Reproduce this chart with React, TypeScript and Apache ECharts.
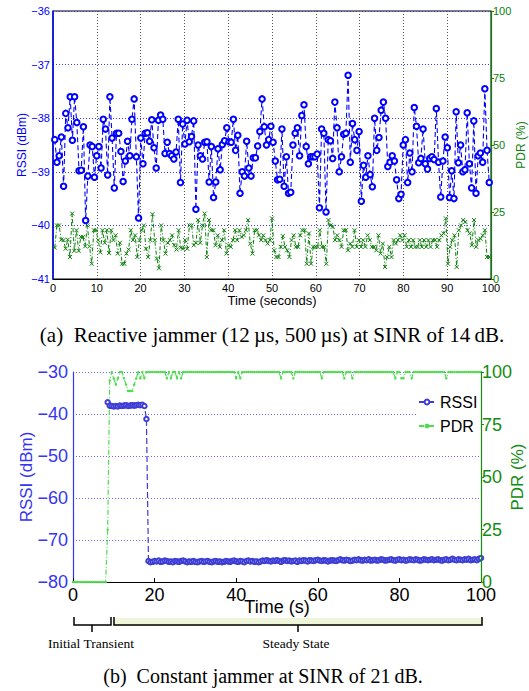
import React, { useEffect, useRef } from 'react';
import * as echarts from 'echarts';

// ---------- (a) Reactive jammer: RSSI (dBm) and PDR (%) over 0.4 .. 99.6 s ----------
const A_T0 = 0.4;
const A_T1 = 99.6;
const rssiA = [
  -38.4, -38.82, -38.7, -38.35, -39.27, -37.91, -38.18, -37.6, -38.41, -37.6,
  -38.08, -38.98, -38.97, -38.16, -39.91, -39.08, -38.5, -38.53, -39.1, -38.7,
  -38.53, -38.93, -38.02, -38.2, -39.06, -37.6, -38.37, -39.3, -38.28, -38.28,
  -38.62, -39.18, -38.8, -38.43, -38.7, -38.02, -37.64, -38.72, -39.86, -38.37,
  -38.85, -38.28, -38.27, -38.43, -38.03, -38.55, -38.93, -38.04, -37.94, -38.02,
  -38.66, -38.45, -38.66, -38.7, -38.76, -38.63, -38.02, -39.2, -38.11, -38.48,
  -38.04, -38.44, -38.34, -38.05, -39.7, -38.5, -38.7, -38.76, -38.45, -38.44,
  -39.19, -38.53, -39.48, -39.19, -38.57, -38.96, -38.49, -38.42, -38.18, -38.44,
  -38.45, -38.02, -38.6, -38.32, -39.4, -39.0, -39.08, -38.43, -38.93, -39.08,
  -38.74, -38.74, -38.52, -38.25, -37.64, -38.16,
  -38.5, -38.4, -38.15, -38.45, -38.8, -39.15, -39.14, -38.2, -39.27, -38.72,
  -39.4, -39.38, -38.5, -38.28, -38.18, -38.7, -37.95, -37.75, -38.53, -38.85,
  -38.72, -38.72, -38.72, -38.67, -39.67, -38.2, -38.28, -39.75, -38.4, -38.42,
  -38.75, -37.7, -38.18, -39.0, -38.72, -38.3, -38.28, -37.2, -38.82, -38.1,
  -38.4, -38.6, -38.25, -39.55, -38.88, -39.1, -38.7, -39.05, -39.28, -38.0,
  -38.6, -38.36, -37.85, -37.7, -38.0, -38.9, -38.82, -38.7, -38.8, -39.15,
  -39.5, -39.42, -38.5, -38.4, -39.2, -38.65, -39.0, -37.8, -38.15, -38.83,
  -38.75, -38.2, -38.85, -38.95, -38.75, -38.72, -38.77, -37.82, -38.82, -39.47,
  -38.8, -38.35, -38.55, -39.48, -38.98, -39.5, -37.88, -38.83, -38.5, -39.0,
  -38.96, -37.9, -38.85, -39.3, -38.05, -39.4, -38.7, -38.65, -38.82, -37.45,
  -38.6, -39.2,
];
const pdrA = [
  11.7, 20, 20, 14.7, 14.5, 11.3, 14.7, 8.2, 24.4, 10.5,
  18.2, 10.5, 15.7, 15.7, 12.2, 20, 12.2, 5.7, 18.2, 18.2,
  14.5, 10, 18.2, 13.5, 18.2, 9.7, 18.2, 14.5, 16.3, 9.5,
  13.5, 5.7, 5.7, 9.5, 11, 18.2, 14.5, 16.3, 8.2, 14.5,
  18.2, 20, 11.3, 8.2, 14.5, 24.2, 14.5, 7.6, 4, 20,
  14.5, 9.5, 13.5, 14.5, 16.3, 12.6, 11, 18.2, 11.7, 11.3,
  14.5, 11.3, 20, 20, 12.6, 13.5, 22, 13.5, 20, 24.4,
  8.2, 22, 18.2, 18.2, 12.6, 16.3, 12, 14.5, 18.2, 9.5,
  12.6, 12, 14.5, 18.2, 14.5, 18.2, 15.7, 16.3, 18.2, 22,
  13.2, 9.5, 18.2, 18.2, 16.3, 14.5, 16.3,
  14.5, 13.2, 14.5, 22.6, 10.7, 8.2, 8.2, 12, 16, 12,
  10.7, 8.2, 14.5, 16.3, 12, 12, 16.3, 18.2, 18.2, 5.7,
  17, 5.7, 12, 12, 12, 18.2, 12, 12, 5.7, 22,
  20, 19.5, 14.5, 16.3, 14.5, 12, 18.2, 18.2, 10.7, 13.2,
  12, 18.2, 12, 14.5, 12, 14.5, 12, 16.3, 14.5, 12,
  12, 10.7, 16.3, 9.5, 13.2, 4.5, 8.2, 12, 8.2, 14.5,
  13.2, 14.5, 16.3, 14.5, 16.3, 12, 14.5, 12, 14.5, 12,
  12, 14.5, 12, 14.5, 12, 14.5, 12, 14.5, 14.5, 12,
  14.5, 16.3, 17, 22.6, 5.7, 12, 14.5, 16.3, 4.5, 18.2,
  20, 22, 21.3, 18.2, 17, 12.6, 22, 12, 14.5, 15,
  16.3, 18.2, 8.2, 8.2,
];

// ---------- (b) Constant jammer: sampled every 0.5 s ----------
const B_DT = 0.5;
const B_RSSI_T0 = 8.5;
const rssiB = [
  -37.2,
  -38.0, -38.1, -38.2, -38.1, -38.2, -38.0, -38.1, -38.0, -37.9, -38.1,
  -38.0, -37.9, -38.0, -37.9, -37.8, -37.9, -37.8,
  -38.1,
  -41.2,
  -75.0, -75.3, -75.2, -75.0, -75.1, -74.9, -75.2, -75.1, -74.9, -75.0,
  -75.2, -75.1, -75.3, -75.0, -75.1, -75.2, -75.0, -74.9, -75.1, -75.3,
  -75.1, -75.2, -75.0, -75.2, -75.3, -75.1, -75.0, -75.2, -75.1, -75.0,
  -75.2, -75.3, -75.1, -75.0, -75.2, -75.1, -75.3, -75.2, -75.0, -75.1,
  -75.2, -75.0, -74.9, -75.1, -75.2, -75.0, -75.1, -75.3, -75.0, -74.9,
  -75.1, -75.0, -75.2, -75.1, -75.3, -75.1, -74.9, -75.0, -74.8, -75.0,
  -75.1, -74.9, -75.0, -74.8, -75.0, -75.2, -74.9, -74.8, -75.0, -74.9,
  -75.1, -75.0, -74.9, -75.2, -74.9, -75.0, -74.8, -74.9, -75.1, -74.8,
  -74.9, -75.0, -74.8, -74.7, -74.9, -75.0, -74.8, -74.9, -75.1, -74.9,
  -74.8, -74.9, -75.0, -74.8, -74.6, -74.8, -74.9, -74.7, -74.8, -75.0,
  -74.9, -74.7, -74.8, -74.6, -74.8, -74.9, -74.7, -74.8, -74.6, -74.9,
  -74.8, -74.7, -74.9, -74.8, -74.6, -74.7, -74.9, -74.8, -74.7, -74.6,
  -74.8, -74.9, -74.7, -74.6, -74.8, -74.7, -74.9, -74.8, -74.6, -74.7,
  -74.8, -74.6, -74.7, -74.9, -74.8, -74.6, -74.7, -74.8, -74.7, -74.6,
  -74.8, -74.7, -74.6, -74.8, -74.9, -74.7, -74.6, -74.8, -74.7, -74.5,
  -74.7, -74.8, -74.6, -74.7, -74.8, -74.6, -74.7, -74.5, -74.8, -74.7,
  -74.6, -74.8, -74.5, -74.3,
];
const B_PDR_T0 = 0;
const pdrB = [
  0, 0, 0, 0, 0, 0, 0, 0, 0, 0, 0, 0, 0, 0, 0, 0, 0,
  25,
  96, 100, 97, 94, 97, 100, 100, 97, 94, 91, 91, 91, 94, 97, 100, 97, 100, 97, 100,
  100, 100, 100, 100, 100, 100, 100, 100, 100, 97,
  100, 97, 100, 100, 97, 100, 97, 100, 100, 100,
  100, 100, 100, 100, 100, 100, 100, 100, 100, 100,
  100, 100, 100, 100, 100, 100, 100, 100, 100, 100,
  100, 100, 100, 97, 100, 97, 100, 100, 100, 100,
  100, 100, 100, 100, 100, 100, 100, 100, 100, 100,
  100, 100, 100, 100, 100, 97, 100, 100, 100, 100,
  100, 97, 100, 100, 100, 100, 100, 100, 100, 100,
  100, 100, 100, 100, 100, 97, 100, 100, 100, 100,
  100, 100, 100, 100, 100, 100, 97, 100, 100, 100,
  97, 100, 100, 100, 100, 100, 100, 100, 100, 100,
  100, 100, 100, 100, 100, 100, 100, 100, 100, 100,
  100, 97, 100, 100, 97, 97, 100, 100, 100, 97,
  100, 100, 100, 100, 100, 100, 100, 100, 100, 100,
  100, 100, 100, 100, 100, 100, 97, 100, 100, 100,
  100, 100, 100, 100, 100, 100, 100, 100, 100, 100,
  100, 100, 100, 100,
];

const legendNames = ['RSSI', 'PDR'];
const captionA = '(a)  Reactive jammer (12\u2009\u00b5s, 500\u2009\u00b5s) at SINR of 14\u2009dB.';
const captionB = '(b)  Constant jammer at SINR of 21\u2009dB.';
const braceLabels = ['Initial Transient', 'Steady State'];

const spread = (vals: number[], t0: number, t1: number) =>
  vals.map((v, i) => [t0 + (i * (t1 - t0)) / (vals.length - 1), v]);
const stepped = (vals: number[], t0: number, dt: number) => vals.map((v, i) => [t0 + i * dt, v]);
const neg = (v: number) => (v < 0 ? '\u2212' + Math.abs(v) : String(v));

const SANS = 'Liberation Sans';
const SERIF = 'Liberation Serif';
const BLUE_A = '#0000ff';
const GREEN_A = '#0b7f0b';
const BLUE_B = '#3d3dd6';
const BLUE_B_AX = '#3535f5';
const GREEN_B = '#4fdc4f';
const GREEN_B_AX = '#138c13';

export default function App() {
  const ref = useRef<HTMLDivElement>(null);
  useEffect(() => {
    document.body.style.margin = '0';
    const chart = echarts.init(ref.current!, null, { renderer: 'svg' });
    const option: any = {
      animation: false,
      textStyle: { fontFamily: SANS },
      grid: [
        {
          left: 53, top: 11, width: 438, height: 268, show: true, borderColor: '#000', borderWidth: 1,
          backgroundColor: 'transparent', containLabel: false, outerBoundsMode: 'none',
        },
        { left: 73, top: 372, width: 408, height: 210, show: false, containLabel: false, outerBoundsMode: 'none' },
      ],
      xAxis: [
        {
          gridIndex: 0, type: 'value', min: 0, max: 100, interval: 10,
          axisLine: { lineStyle: { color: '#000', width: 1 } },
          axisTick: { show: false },
          axisLabel: { color: '#000', fontSize: 11, margin: 3, fontFamily: SANS },
          splitLine: { show: true, lineStyle: { color: '#555', type: [1, 2], width: 1 } },
          name: 'Time (seconds)', nameLocation: 'middle', nameGap: 15, nameMoveOverlap: false,
          nameTextStyle: { color: '#000', fontSize: 13, fontFamily: SANS },
        },
        {
          gridIndex: 1, type: 'value', min: 0, max: 100, interval: 20,
          axisLine: { lineStyle: { color: '#000', width: 1.2 } },
          axisTick: { show: true, inside: true, length: 4, lineStyle: { color: '#000' } },
          axisLabel: { color: '#000', fontSize: 18, margin: 4, fontFamily: SANS },
          splitLine: { show: false },
          name: 'Time (s)', nameLocation: 'middle', nameGap: 16, nameMoveOverlap: false,
          nameTextStyle: { color: '#000', fontSize: 18, fontFamily: SANS },
        },
      ],
      yAxis: [
        {
          gridIndex: 0, type: 'value', min: -41, max: -36, interval: 1, position: 'left',
          axisLine: { show: true, lineStyle: { color: BLUE_A, width: 1.5 } },
          axisTick: { show: false },
          axisLabel: { color: BLUE_A, fontSize: 11, margin: 3, formatter: neg, fontFamily: SANS },
          splitLine: { show: true, lineStyle: { color: '#3a3aff', type: [1, 2], width: 1 } },
          name: 'RSSI (dBm)', nameLocation: 'middle', nameGap: 25, nameRotate: 90, nameMoveOverlap: false,
          nameTextStyle: { color: BLUE_A, fontSize: 12, fontFamily: SANS },
        },
        {
          gridIndex: 0, type: 'value', min: 0, max: 100, interval: 25, position: 'right',
          axisLine: { show: true, lineStyle: { color: GREEN_A, width: 1.2 } },
          axisTick: { show: true, inside: false, length: 3, lineStyle: { color: GREEN_A } },
          axisLabel: { color: GREEN_A, fontSize: 11, margin: 2, fontFamily: SANS },
          splitLine: { show: false },
          name: 'PDR (%)', nameLocation: 'middle', nameGap: 24, nameRotate: 90, nameMoveOverlap: false,
          nameTextStyle: { color: GREEN_A, fontSize: 12, fontFamily: SANS },
        },
        {
          gridIndex: 1, type: 'value', min: -80, max: -30, interval: 10, position: 'left',
          axisLine: { show: true, lineStyle: { color: BLUE_B_AX, width: 1.2 } },
          axisTick: { show: false },
          axisLabel: { color: BLUE_B_AX, fontSize: 18, margin: 5, formatter: neg, fontFamily: SANS },
          splitLine: { show: true, lineStyle: { color: '#6b6bff', type: [1, 2], width: 1 } },
          name: 'RSSI (dBm)', nameLocation: 'middle', nameGap: 38, nameRotate: 90, nameMoveOverlap: false,
          nameTextStyle: { color: BLUE_B_AX, fontSize: 17, fontFamily: SANS },
        },
        {
          gridIndex: 1, type: 'value', min: 0, max: 100, interval: 25, position: 'right', z: 6,
          axisLine: { show: true, lineStyle: { color: GREEN_B_AX, width: 1.2 } },
          axisTick: { show: true, inside: false, length: 3, lineStyle: { color: GREEN_B_AX } },
          axisLabel: { color: GREEN_B_AX, fontSize: 18, margin: 1, fontFamily: SANS },
          splitLine: { show: false },
          name: 'PDR (%)', nameLocation: 'middle', nameGap: 28, nameRotate: 90, nameMoveOverlap: false,
          nameTextStyle: { color: GREEN_B_AX, fontSize: 17, fontFamily: SANS },
        },
      ],
      legend: {
        data: legendNames,
        orient: 'vertical',
        left: 416,
        top: 392,
        itemGap: 8,
        itemWidth: 16,
        itemHeight: 6,
        padding: [2, 2, 2, 2],
        backgroundColor: '#fff',
        textStyle: { color: '#000', fontSize: 16, fontFamily: SANS },
      },
      series: [
        {
          name: 'PDR (a)', type: 'line', xAxisIndex: 0, yAxisIndex: 1,
          data: spread(pdrA, A_T0, A_T1),
          symbol: 'path://M0,0L10,10M10,0L0,10', symbolSize: 4,
          itemStyle: { color: GREEN_A, borderColor: GREEN_A, borderWidth: 1 },
          lineStyle: { color: GREEN_A, width: 1, type: [4, 2, 1, 2] },
        },
        {
          name: 'RSSI (a)', type: 'line', xAxisIndex: 0, yAxisIndex: 0,
          data: spread(rssiA, A_T0, A_T1),
          symbol: 'emptyCircle', symbolSize: 5.5,
          itemStyle: { color: BLUE_A, borderColor: BLUE_A, borderWidth: 1 },
          lineStyle: { color: BLUE_A, width: 1.1, type: [5, 3] },
        },
        {
          name: 'PDR', type: 'line', xAxisIndex: 1, yAxisIndex: 3,
          data: stepped(pdrB, B_PDR_T0, B_DT),
          symbol: 'circle', symbolSize: 2.5,
          itemStyle: { color: GREEN_B },
          lineStyle: { color: GREEN_B, width: 1.2, type: [5, 2, 1, 2] },
        },
        {
          name: 'RSSI', type: 'line', xAxisIndex: 1, yAxisIndex: 2,
          data: stepped(rssiB, B_RSSI_T0, B_DT),
          symbol: 'emptyCircle', symbolSize: 4.5,
          itemStyle: { color: BLUE_B, borderColor: BLUE_B, borderWidth: 1 },
          lineStyle: { color: BLUE_B, width: 1.2, type: [6, 3] },
        },
      ],
      graphic: [
        {
          type: 'text', x: 272, y: 335,
          style: { text: captionA, fontFamily: SERIF, fontSize: 21, fill: '#000', align: 'center', verticalAlign: 'middle' },
        },
        {
          type: 'rect', shape: { x: 113, y: 618, width: 370, height: 8 },
          style: { fill: '#eef5d8' },
        },
        {
          type: 'polyline', shape: { points: [[74, 617], [74, 625], [111, 625], [111, 617]] },
          style: { stroke: '#000', lineWidth: 1.5, fill: 'none' },
        },
        { type: 'line', shape: { x1: 92, y1: 625, x2: 92, y2: 632 }, style: { stroke: '#000', lineWidth: 1.5 } },
        {
          type: 'polyline', shape: { points: [[114, 617], [114, 625], [482, 625], [482, 617]] },
          style: { stroke: '#000', lineWidth: 1.5, fill: 'none' },
        },
        { type: 'line', shape: { x1: 298, y1: 625, x2: 298, y2: 632 }, style: { stroke: '#000', lineWidth: 1.5 } },
        {
          type: 'text', x: 91, y: 643,
          style: { text: braceLabels[0], fontFamily: SERIF, fontSize: 13.5, fill: '#000', align: 'center', verticalAlign: 'middle' },
        },
        {
          type: 'text', x: 296, y: 643,
          style: { text: braceLabels[1], fontFamily: SERIF, fontSize: 13.5, fill: '#000', align: 'center', verticalAlign: 'middle' },
        },
        {
          type: 'text', x: 263, y: 676,
          style: { text: captionB, fontFamily: SERIF, fontSize: 20, fill: '#000', align: 'center', verticalAlign: 'middle' },
        },
      ],
    };
    chart.setOption(option);
    return () => chart.dispose();
  }, []);
  return <div ref={ref} style={{ width: 529, height: 691 }} />;
}
